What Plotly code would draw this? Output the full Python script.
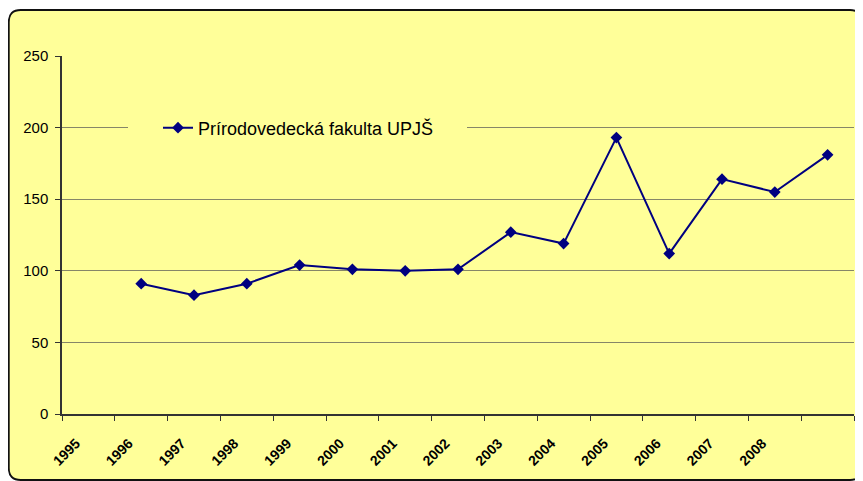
import plotly.graph_objects as go

# tick labels on the category axis (labels sit on the tick marks)
years = ['1995', '1996', '1997', '1998', '1999', '2000', '2001',
         '2002', '2003', '2004', '2005', '2006', '2007', '2008']
# values, one per category slot starting at slot 2
values = [91, 83, 91, 104, 101, 100, 101, 127, 119, 193, 112, 164, 155, 181]
series_name = 'Prírodovedecká fakulta UPJŠ'

W, H = 863, 481
OFF = 8  # page body margin shifts the figure by 8px
L, T = 62 - OFF, 56 - OFF
pw, ph = 792, 358
R, B = W - L - pw, H - T - ph


def px(x):
    # page pixel -> paper x
    return (x - OFF - L) / pw


def py(y):
    # page pixel -> paper y
    return (T + ph - (y - OFF)) / ph


def rounded_box(x0, y0, x1, y1, r):
    return (f'M {px(x0 + r)},{py(y0)} L {px(x1 - r)},{py(y0)} '
            f'Q {px(x1)},{py(y0)} {px(x1)},{py(y0 + r)} '
            f'L {px(x1)},{py(y1 - r)} Q {px(x1)},{py(y1)} {px(x1 - r)},{py(y1)} '
            f'L {px(x0 + r)},{py(y1)} Q {px(x0)},{py(y1)} {px(x0)},{py(y1 - r)} '
            f'L {px(x0)},{py(y0 + r)} Q {px(x0)},{py(y0)} {px(x0 + r)},{py(y0)} Z')


n_slots = len(years) + 1
xpos = [i + 1.5 for i in range(len(values))]

fig = go.Figure()
fig.add_trace(go.Scatter(x=xpos, y=values, name=series_name, mode='lines+markers',
                         line=dict(color='#000080', width=2),
                         marker=dict(symbol='diamond', size=9, color='#000080')))

fig.update_layout(
    width=W, height=H,
    margin=dict(l=L, r=R, t=T, b=B, autoexpand=False),
    paper_bgcolor='white',
    plot_bgcolor='rgba(0,0,0,0)',
    font=dict(family='Liberation Sans, Arial', color='black'),
    showlegend=True,
    legend=dict(x=px(158), y=py(128), xanchor='left', yanchor='middle',
                bgcolor='rgba(0,0,0,0)', borderwidth=0,
                font=dict(size=18, family='Liberation Sans, Arial')),
    shapes=[
        dict(type='path', xref='paper', yref='paper', layer='below',
             path=rounded_box(8.8, 10, 862, 480, 12),
             fillcolor='#FFFF99', line=dict(color='#111111', width=1.8)),
        # legend box hides the gridline behind it
        dict(type='rect', xref='paper', yref='paper', layer='above',
             x0=px(128), x1=px(467), y0=py(121), y1=py(136),
             fillcolor='#FFFF99', line=dict(width=0)),
    ],
)

fig.update_xaxes(range=[0, n_slots], tickmode='array',
                 tickvals=list(range(n_slots + 1)),
                 ticktext=years + ['', ''],
                 tickangle=-45, ticks='outside', ticklen=5, tickcolor='#333333',
                 ticklabelshift=14, ticklabelstandoff=9,
                 tickfont=dict(size=14, family='Liberation Sans, Arial', weight='bold'),
                 showgrid=False, zeroline=False,
                 showline=True, linecolor='#333333', linewidth=1.5)
fig.update_yaxes(range=[0, 250], tickvals=[0, 50, 100, 150, 200, 250],
                 ticks='outside', ticklen=5, tickcolor='#333333',
                 ticklabelstandoff=4,
                 tickfont=dict(size=15), showgrid=True, gridcolor='#868668',
                 gridwidth=1, zeroline=False,
                 showline=True, linecolor='#333333', linewidth=1.5)

fig.write_html('out.html')
